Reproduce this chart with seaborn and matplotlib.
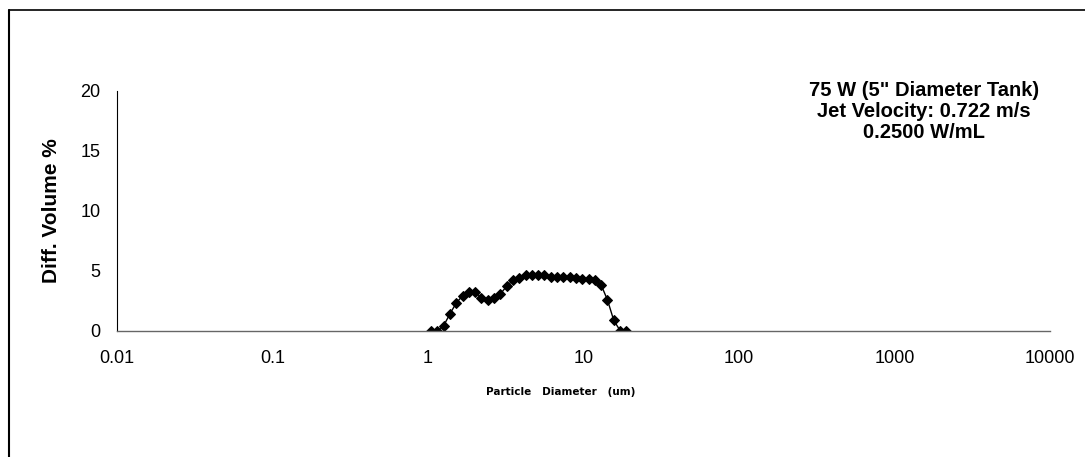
import seaborn as sns
import matplotlib.pyplot as plt
from matplotlib.lines import Line2D

# particle size bins (um) and differential volume (%)
diameters = [1.047, 1.149, 1.261, 1.385, 1.520, 1.669, 1.832, 2.010, 2.207, 2.423,
             2.660, 2.920, 3.205, 3.519, 3.863, 4.240, 4.655, 5.110, 5.610, 6.158,
             6.760, 7.421, 8.147, 8.943, 9.818, 10.78, 11.83, 12.99, 14.26, 15.65,
             17.18, 18.86]
diff_volume = [0.0, 0.0, 0.4, 1.4, 2.3, 2.9, 3.2, 3.25, 2.7, 2.55,
               2.7, 3.05, 3.7, 4.2, 4.4, 4.6, 4.65, 4.65, 4.65, 4.5,
               4.5, 4.5, 4.5, 4.4, 4.3, 4.3, 4.2, 3.8, 2.55, 0.85,
               0.0, 0.0]

x_ticks = [0.01, 0.1, 1, 10, 100, 1000, 10000]
x_tick_labels = ['0.01', '0.1', '1', '10', '100', '1000', '10000']
y_ticks = [0, 5, 10, 15, 20]

annotation = '75 W (5" Diameter Tank)\nJet Velocity: 0.722 m/s\n0.2500 W/mL'

sns.set_theme(style='white')
plt.rcParams['font.family'] = ['Liberation Sans', 'DejaVu Sans']

fig = plt.figure(figsize=(10.85, 4.57), dpi=100)
ax = fig.add_axes([117 / 1085, 1 - 330.5 / 457, 933 / 1085, 239.5 / 457])

sns.lineplot(x=diameters, y=diff_volume, ax=ax, color='black', linewidth=1,
             marker='D', markersize=5.5, markeredgecolor='black', markerfacecolor='black')

ax.set_xscale('log')
ax.set_xlim(0.01, 10000)
ax.set_ylim(0, 20)
ax.set_xticks(x_ticks)
ax.set_xticklabels(x_tick_labels)
ax.set_yticks(y_ticks)
ax.minorticks_off()

for side in ['top', 'right']:
    ax.spines[side].set_visible(False)
ax.spines['left'].set_color('black')
ax.spines['left'].set_linewidth(0.8)
ax.spines['bottom'].set_color('#666666')
ax.spines['bottom'].set_linewidth(1.0)

ax.tick_params(axis='both', which='major', direction='out', length=4, width=0.8,
               color='black', labelsize=13, labelcolor='black')
ax.tick_params(axis='x', pad=10)
ax.tick_params(axis='y', pad=8)

ax.set_ylabel('Diff. Volume %', fontsize=15, fontweight='bold', color='black')
ax.yaxis.set_label_coords(-(117 - 61) / 933, 0.5)
ax.set_xlabel('')
fig.text(561 / 1085, 1 - 392 / 457, 'Particle   Diameter   (um)', family='DejaVu Sans',
         fontsize=7.5, fontweight='bold', ha='center', va='center', color='black')

fig.text(924 / 1085, 1 - 111.5 / 457, annotation, fontsize=14.5, fontweight='bold',
         ha='center', va='center', linespacing=1.12, color='black')

# outer chart border (left and top edges visible)
fig.add_artist(Line2D([9 / 1085, 9 / 1085], [0, 1 - 10 / 457], transform=fig.transFigure,
                      color='black', linewidth=1.5))
fig.add_artist(Line2D([9 / 1085, 1], [1 - 10 / 457, 1 - 10 / 457], transform=fig.transFigure,
                      color='black', linewidth=1.2))

fig.savefig('out.png', dpi=100)
